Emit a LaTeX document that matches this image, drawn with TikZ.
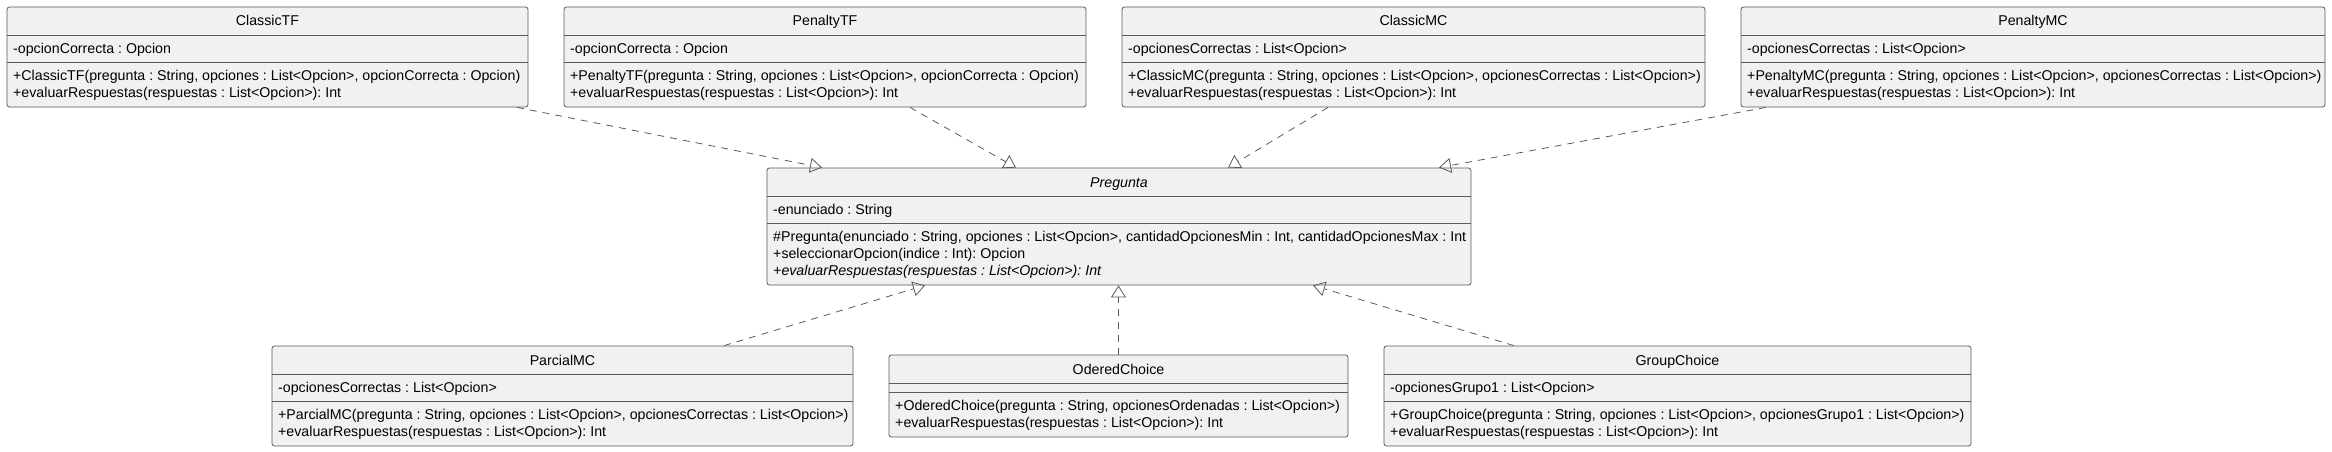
\documentclass[tikz,border=0pt]{standalone}
\usepackage{fontspec}
\setmainfont{Liberation Sans}
\usetikzlibrary{arrows.meta}
\usetikzlibrary{positioning}
\definecolor{umlfill}{HTML}{F1F1F1}
\definecolor{umlline}{HTML}{595959}
\frenchspacing
\tikzset{
  classbox/.style={draw=umlline, fill=umlfill, line width=0.8pt, rounded corners=2.5pt, inner sep=0pt},
  compsep/.style={draw=umlline, line width=0.8pt},
  clname/.style={font=\fontsize{14.2}{16}\selectfont, anchor=base, inner sep=0pt},
  member/.style={font=\fontsize{14.2}{16}\selectfont, anchor=base west, inner sep=0pt},
  realize/.style={draw=umlline, line width=0.8pt, dash pattern=on 7pt off 6pt, -{Triangle[open, length=12pt, width=15pt]}}
}
\begin{document}
\begin{tikzpicture}[x=1pt,y=-1pt]
\useasboundingbox (0,0) rectangle (2332,452);

\node[classbox, minimum width=521pt, minimum height=100pt] (ctf) at (267.5,57) {};
\draw[compsep] (7,35) -- (528,35);
\draw[compsep] (7,62) -- (528,62);
\node[clname] (ctf-name) at (267.5,26) {ClassicTF};
\node[member] (ctf-a1) at (13,53.5) {-opcionCorrecta : Opcion};
\node[member] (ctf-m1) at (13,80.5) {+ClassicTF(pregunta : String, opciones : List<Opcion>, opcionCorrecta : Opcion)};
\node[member] (ctf-m2) at (13,97.5) {+evaluarRespuestas(respuestas : List<Opcion>): Int};

\node[classbox, minimum width=522pt, minimum height=100pt] (ptf) at (825,57) {};
\draw[compsep] (564,35) -- (1086,35);
\draw[compsep] (564,62) -- (1086,62);
\node[clname] (ptf-name) at (825,26) {PenaltyTF};
\node[member] (ptf-a1) at (570,53.5) {-opcionCorrecta : Opcion};
\node[member] (ptf-m1) at (570,80.5) {+PenaltyTF(pregunta : String, opciones : List<Opcion>, opcionCorrecta : Opcion)};
\node[member] (ptf-m2) at (570,97.5) {+evaluarRespuestas(respuestas : List<Opcion>): Int};

\node[classbox, minimum width=583pt, minimum height=100pt] (cmc) at (1413.5,57) {};
\draw[compsep] (1122,35) -- (1705,35);
\draw[compsep] (1122,62) -- (1705,62);
\node[clname] (cmc-name) at (1413.5,26) {ClassicMC};
\node[member] (cmc-a1) at (1128,53.5) {-opcionesCorrectas : List<Opcion>};
\node[member] (cmc-m1) at (1128,80.5) {+ClassicMC(pregunta : String, opciones : List<Opcion>, opcionesCorrectas : List<Opcion>)};
\node[member] (cmc-m2) at (1128,97.5) {+evaluarRespuestas(respuestas : List<Opcion>): Int};

\node[classbox, minimum width=584pt, minimum height=100pt] (pmc) at (2033,57) {};
\draw[compsep] (1741,35) -- (2325,35);
\draw[compsep] (1741,62) -- (2325,62);
\node[clname] (pmc-name) at (2033,26) {PenaltyMC};
\node[member] (pmc-a1) at (1747,53.5) {-opcionesCorrectas : List<Opcion>};
\node[member] (pmc-m1) at (1747,80.5) {+PenaltyMC(pregunta : String, opciones : List<Opcion>, opcionesCorrectas : List<Opcion>)};
\node[member] (pmc-m2) at (1747,97.5) {+evaluarRespuestas(respuestas : List<Opcion>): Int};

\node[classbox, minimum width=704pt, minimum height=117pt] (preg) at (1119,226.5) {};
\draw[compsep] (767,196) -- (1471,196);
\draw[compsep] (767,223) -- (1471,223);
\node[clname, font=\fontsize{14.2}{16}\selectfont\itshape] (preg-name) at (1119,187) {Pregunta};
\node[member] (preg-a1) at (773,214.5) {-enunciado : String};
\node[member] (preg-m1) at (773,241.5) {\#Pregunta(enunciado : String, opciones : List<Opcion>, cantidadOpcionesMin : Int, cantidadOpcionesMax : Int};
\node[member] (preg-m2) at (773,258.5) {+seleccionarOpcion(indice : Int): Opcion};
\node[member, font=\fontsize{14.2}{16}\selectfont\itshape] (preg-m3) at (773,275.5) {+evaluarRespuestas(respuestas : List<Opcion>): Int};

\node[classbox, minimum width=581pt, minimum height=100pt] (parc) at (562.5,396) {};
\draw[compsep] (272,374) -- (853,374);
\draw[compsep] (272,401) -- (853,401);
\node[clname] (parc-name) at (562.5,365) {ParcialMC};
\node[member] (parc-a1) at (278,392.5) {-opcionesCorrectas : List<Opcion>};
\node[member] (parc-m1) at (278,419.5) {+ParcialMC(pregunta : String, opciones : List<Opcion>, opcionesCorrectas : List<Opcion>)};
\node[member] (parc-m2) at (278,436.5) {+evaluarRespuestas(respuestas : List<Opcion>): Int};

\node[classbox, minimum width=459pt, minimum height=82pt] (ord) at (1118.5,396) {};
\draw[compsep] (889,383) -- (1348,383);
\draw[compsep] (889,392) -- (1348,392);
\node[clname] (ord-name) at (1118.5,374) {OderedChoice};
\node[member] (ord-m1) at (895,410.5) {+OderedChoice(pregunta : String, opcionesOrdenadas : List<Opcion>)};
\node[member] (ord-m2) at (895,427.5) {+evaluarRespuestas(respuestas : List<Opcion>): Int};

\node[classbox, minimum width=587pt, minimum height=100pt] (grp) at (1677.5,396) {};
\draw[compsep] (1384,374) -- (1971,374);
\draw[compsep] (1384,401) -- (1971,401);
\node[clname] (grp-name) at (1677.5,365) {GroupChoice};
\node[member] (grp-a1) at (1390,392.5) {-opcionesGrupo1 : List<Opcion>};
\node[member] (grp-m1) at (1390,419.5) {+GroupChoice(pregunta : String, opciones : List<Opcion>, opcionesGrupo1 : List<Opcion>)};
\node[member] (grp-m2) at (1390,436.5) {+evaluarRespuestas(respuestas : List<Opcion>): Int};

\draw[realize] ([xshift=249.5pt]ctf.south) -- ([xshift=-297pt]preg.north);
\draw[realize] ([xshift=85pt]ptf.south) -- ([xshift=-103pt]preg.north);
\draw[realize] ([xshift=-85.5pt]cmc.south) -- ([xshift=109pt]preg.north);
\draw[realize] ([xshift=-267pt]pmc.south) -- ([xshift=320pt]preg.north);
\draw[realize] ([xshift=161.5pt]parc.north) -- ([xshift=-194pt]preg.south);
\draw[realize] (ord.north) -- (ord.north |- preg.south);
\draw[realize] ([xshift=-163.5pt]grp.north) -- ([xshift=194pt]preg.south);

\end{tikzpicture}
\end{document}
